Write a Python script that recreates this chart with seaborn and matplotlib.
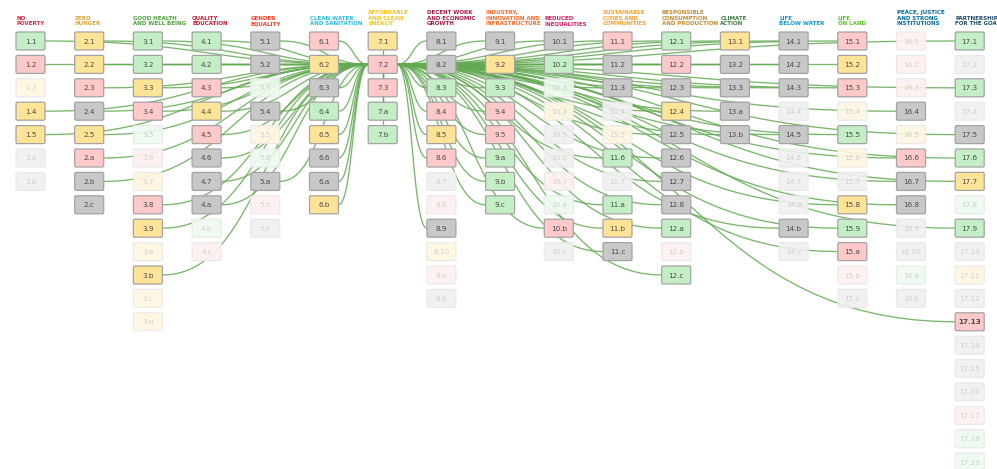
import numpy as np
import pandas as pd
import matplotlib.pyplot as plt
from matplotlib.patches import FancyBboxPatch
import seaborn as sns

# goal headers and colours
goal_names = [
    "NO\nPOVERTY", "ZERO\nHUNGER", "GOOD HEALTH\nAND WELL BEING", "QUALITY\nEDUCATION",
    "GENDER\nEQUALITY", "CLEAN WATER\nAND SANITATION", "AFFORDABLE\nAND CLEAN\nENERGY",
    "DECENT WORK\nAND ECONOMIC\nGROWTH", "INDUSTRY,\nINNOVATION AND\nINFRASTRUCTURE",
    "REDUCED\nINEQUALITIES", "SUSTAINABLE\nCITIES AND\nCOMMUNITIES",
    "RESPONSIBLE\nCONSUMPTION\nAND PRODUCTION", "CLIMATE\nACTION", "LIFE\nBELOW WATER",
    "LIFE\nON LAND", "PEACE, JUSTICE\nAND STRONG\nINSTITUTIONS", "PARTNERSHIPS\nFOR THE GOALS",
]
goal_colors = [
    "#E5243B", "#DDA63A", "#4C9F38", "#C5192D", "#FF3A21", "#26BDE2", "#FCC30B",
    "#A21942", "#FD6925", "#DD1367", "#FD9D24", "#BF8B2E", "#3F7E44", "#0A97D9",
    "#56C02B", "#00689D", "#19486A",
]

# target suffixes per goal
target_suffixes = [
    "1 2 3 4 5 a b",
    "1 2 3 4 5 a b c",
    "1 2 3 4 5 6 7 8 9 a b c d",
    "1 2 3 4 5 6 7 a b c",
    "1 2 3 4 5 6 a b c",
    "1 2 3 4 5 6 a b",
    "1 2 3 a b",
    "1 2 3 4 5 6 7 8 9 10 a b",
    "1 2 3 4 5 a b c",
    "1 2 3 4 5 6 7 a b c",
    "1 2 3 4 5 6 7 a b c",
    "1 2 3 4 5 6 7 8 a b c",
    "1 2 3 a b",
    "1 2 3 4 5 6 7 a b c",
    "1 2 3 4 5 6 7 8 9 a b c",
    "1 2 3 4 5 6 7 8 9 10 a b",
    "1 2 3 4 5 6 7 8 9 10 11 12 13 14 15 16 17 18 19",
]

# status per target: G green, R red, Y yellow, X grey; lowercase = faded
target_status = [
    "GRyYYxx",
    "YYRXYRXX",
    "GGYRgryRYyYyy",
    "GGRYRXXXgr",
    "XXgXygXrx",
    "RYXGYXXY",
    "YRRGG",
    "XXGRYRxrXyrx",
    "XYGRRGGG",
    "XGgyxxrgRx",
    "RXXxyGxGYX",
    "GRXYXXXXGrG",
    "YXXXX",
    "XXXxXxxxXx",
    "RYRyGyxYGRrx",
    "rrrXyRXXxxgx",
    "GxGxXGYgGxyxRxxxrgg",
]

hub = "7.2"
not_linked = ["2.c"]
bold_targets = ["17.13"]

fills = {"G": "#c4efc6", "R": "#ffc9c9", "Y": "#ffe396", "X": "#c8c8c8"}

# layout (pixels)
x0, dx = 16, 58.7
y0, dy = 41, 23.4
bw, bh = 29, 18

rows = []
for g, (suf, st) in enumerate(zip(target_suffixes, target_status)):
    for r, (s, c) in enumerate(zip(suf.split(), st)):
        rows.append({"goal": g + 1, "target": f"{g + 1}.{s}", "col": g, "row": r,
                     "code": c.upper(), "faded": c.islower()})
df = pd.DataFrame(rows)
df["x"] = x0 + df["col"] * dx
df["y"] = y0 + df["row"] * dy

hub_row = df[df["target"] == hub].iloc[0]
hx, hy = hub_row["x"], hub_row["y"]


def link_curve(xa, ya, xb, yb, n=40):
    t = np.linspace(0, 1, n)
    mx = (xa + xb) / 2
    px = (1 - t) ** 3 * xa + 3 * (1 - t) ** 2 * t * mx + 3 * (1 - t) * t ** 2 * mx + t ** 3 * xb
    py = (1 - t) ** 3 * ya + 3 * (1 - t) ** 2 * t * ya + 3 * (1 - t) * t ** 2 * yb + t ** 3 * yb
    return px, py


segs = []
for _, t in df.iterrows():
    if t["faded"] or t["target"] == hub or t["target"] in not_linked:
        continue
    if t["col"] == hub_row["col"]:
        px = np.array([hx + bw / 2, t["x"] + bw / 2])
        py = np.array([hy, t["y"]])
    elif t["col"] < hub_row["col"]:
        px, py = link_curve(t["x"] + bw, t["y"], hx, hy)
    else:
        px, py = link_curve(hx + bw, hy, t["x"], t["y"])
    segs.append(pd.DataFrame({"x": px, "y": py, "link": t["target"]}))
links = pd.concat(segs, ignore_index=True)

sns.set_theme(style="white")
fig = plt.figure(figsize=(9.97, 4.69), dpi=100)
ax = fig.add_axes([0, 0, 1, 1])

sns.lineplot(data=links, x="x", y="y", units="link", estimator=None, sort=False,
             color="#62aa52", alpha=0.85, lw=0.95, ax=ax, zorder=2)

for _, t in df.iterrows():
    base = np.array(plt.matplotlib.colors.to_rgb(fills[t["code"]]))
    if t["faded"]:
        face = base * 0.28 + 0.72
        edge = "#e8e8e8"
        tc = "#cfcfcf"
        alpha = 0.9
    else:
        face = base
        edge = "#a3a3a3"
        tc = "#4a4a4a"
        alpha = 1.0
    ax.add_patch(FancyBboxPatch((t["x"], t["y"] - bh / 2), bw, bh,
                                boxstyle="round,pad=0,rounding_size=1.5",
                                facecolor=face, edgecolor=edge, lw=0.9, alpha=alpha, zorder=3))
    ax.text(t["x"] + bw / 2, t["y"] + 0.5, t["target"], ha="center", va="center",
            fontsize=5.2, color=tc, zorder=4,
            fontweight="bold" if t["target"] in bold_targets else "normal")

for g, (name, col) in enumerate(zip(goal_names, goal_colors)):
    ax.text(x0 + g * dx, 26, name, ha="left", va="bottom", fontsize=4.0,
            fontweight="bold", color=col, linespacing=1.1)

ax.set_xlim(0, 997)
ax.set_ylim(469, 0)
ax.set_axis_off()
fig.savefig("out.png", dpi=100)
